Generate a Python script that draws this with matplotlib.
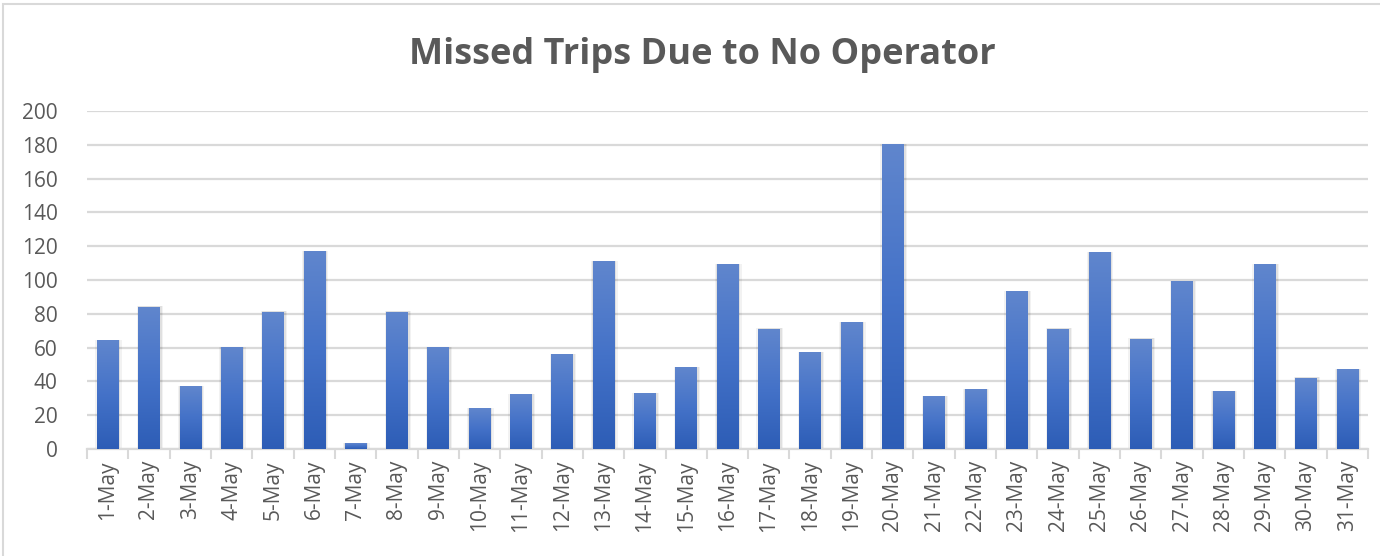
import matplotlib
matplotlib.use("Agg")
import matplotlib.pyplot as plt
import numpy as np
from matplotlib.colors import LinearSegmentedColormap
from matplotlib.patches import Rectangle

days = [f"{d}-May" for d in range(1, 32)]
missed = [64, 84, 37, 60, 81, 117, 3, 81, 60, 24,
          32, 56, 111, 33, 48, 109, 71, 57, 75, 180,
          31, 35, 93, 71, 116, 65, 99, 34, 109, 42, 47]

plt.rcParams['font.family'] = ['Open Sans', 'DejaVu Sans']
grey = "#595959"
line = "#D9D9D9"

fig = plt.figure(figsize=(13.8, 5.56), dpi=100)
ax = fig.add_axes([87 / 1380, 1 - 449 / 556, 1281 / 1380, 338 / 556])

# outer chart border (right/bottom edges are cut off in the source)
fig.patches.append(Rectangle((3 / 1380, -0.1), 1.2, 1 - 4 / 556 + 0.1,
                             transform=fig.transFigure, fill=False,
                             edgecolor=line, linewidth=1.5))

grad_cmap = LinearSegmentedColormap.from_list(
    "bar", ["#2D5DB6", "#4472C8", "#6086CD"])
grad = np.linspace(0, 1, 256).reshape(-1, 1)

x = np.arange(len(days))
w = 0.52
bars = ax.bar(x, missed, width=w, color="none", zorder=3)
for b in bars:
    x0, h = b.get_x(), b.get_height()
    # soft shadow
    for k, a in [(0.06, 0.05), (0.03, 0.07)]:
        ax.add_patch(Rectangle((x0 - k + 0.02, 0), w + 2 * k, h + 0.4,
                               facecolor="#000000", alpha=a,
                               edgecolor="none", zorder=2))
    ax.imshow(grad, extent=[x0, x0 + w, 0, h], origin="lower",
              cmap=grad_cmap, aspect="auto", zorder=3)

ax.set_xlim(-0.5, len(days) - 0.5)
ax.set_ylim(0, 200)
ax.set_yticks(range(0, 201, 20))
ax.yaxis.grid(True, color=line, linewidth=1.6, zorder=0)
ax.set_axisbelow(True)

ax.set_xticks(x)
ax.set_xticklabels(days, rotation=90, fontsize=15, color=grey)
ax.set_xticks(np.arange(-0.5, len(days), 1), minor=True)
ax.tick_params(axis="x", which="major", length=0, pad=8)
ax.tick_params(axis="x", which="minor", length=7, width=1.5, color=line)
ax.tick_params(axis="y", length=0, labelsize=15, labelcolor=grey, pad=21)

for s in ["top", "right", "left"]:
    ax.spines[s].set_visible(False)
ax.spines["bottom"].set_color(line)
ax.spines["bottom"].set_linewidth(1.6)

fig.text(0.509, 1 - 55 / 556, "Missed Trips Due to No Operator",
         ha="center", va="center", fontsize=26, fontweight="bold", color=grey)

fig.savefig("out.png", dpi=100)
